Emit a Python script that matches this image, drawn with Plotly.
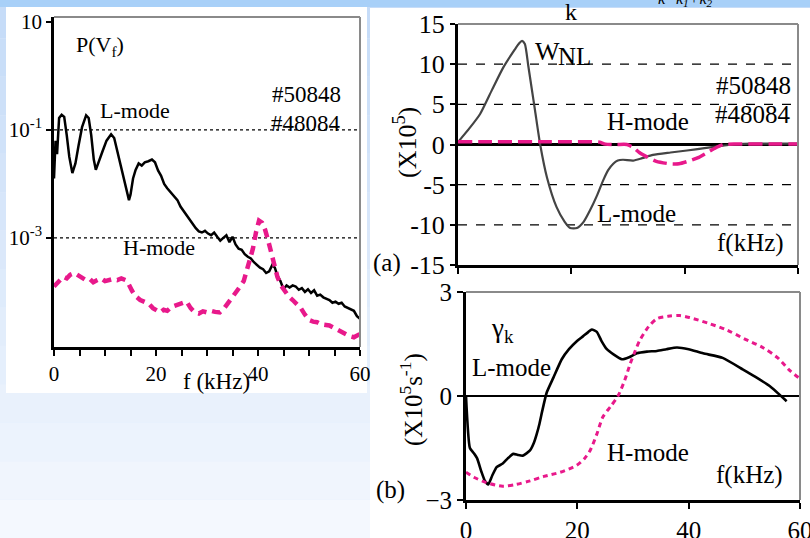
import plotly.graph_objects as go

W, H = 810, 538

# ---------------- Data ----------------
# Left panel: P(V_f) spectra, stored as log10 values
left_f_L = [0, 0.3, 0.6, 1.0, 1.5, 2.0, 2.5, 3.0, 3.6, 4.2, 4.8, 5.5, 6.3, 6.8, 7.3, 7.8, 8.2, 8.8, 9.5,
            10.3, 11.2, 11.8, 12.4, 13.0, 13.6, 14.2, 14.7, 15.0, 15.5, 16.0, 16.6, 17.2, 17.8, 18.5,
            19.2, 19.8, 20.4, 21.0, 21.6, 22.2, 22.8, 23.5, 24.2, 24.8, 25.4, 26.0, 26.6, 27.2, 27.8,
            28.4, 29.0, 29.6, 30.2, 30.8, 31.4, 32.0, 32.6, 33.2, 33.8, 34.4, 35.0, 35.6, 36.2, 36.8,
            37.4, 38.0, 38.6, 39.2, 39.8, 40.4, 41.0, 41.6, 42.2, 42.8, 43.3, 43.8, 44.4, 45.0, 45.6,
            46.2, 46.8, 47.4, 48.0, 48.6, 49.2, 49.8, 50.4, 51.0, 51.6, 52.2, 52.8, 53.4, 54.0, 54.6,
            55.2, 55.8, 56.4, 57.0, 57.6, 58.2, 58.8, 59.4, 60.0]
left_logP_L = [-1.9, -1.2, -1.45, -0.78, -0.72, -0.76, -1.1, -1.5, -1.8, -1.62, -1.3, -0.95, -0.73, -0.78,
               -1.1, -1.55, -1.74, -1.6, -1.4, -1.2, -1.08, -1.15, -1.4, -1.6, -1.85, -2.1, -2.3, -2.2,
               -1.9, -1.74, -1.62, -1.66, -1.6, -1.58, -1.55, -1.6, -1.75, -1.85, -2.0, -2.08, -2.15,
               -2.22, -2.3, -2.42, -2.5, -2.6, -2.68, -2.75, -2.82, -2.88, -2.9, -2.87, -2.92, -2.95,
               -2.9, -2.98, -3.05, -3.0, -2.95, -3.08, -2.98, -3.12, -3.2, -3.22, -3.3, -3.35, -3.38,
               -3.45, -3.5, -3.55, -3.58, -3.65, -3.62, -3.5, -3.55, -3.7, -3.8, -3.95, -3.88, -3.92,
               -3.88, -3.9, -3.96, -3.93, -4.0, -3.95, -4.02, -3.97, -4.07, -4.05, -4.1, -4.12, -4.15,
               -4.2, -4.18, -4.22, -4.2, -4.27, -4.3, -4.32, -4.35, -4.45, -4.5]
left_f_H = [0, 0.5, 1.0, 1.8, 2.5, 3.2, 4.0, 4.8, 5.5, 6.2, 7.0, 7.7, 8.5, 9.2, 10.0, 10.8, 11.6, 12.4,
            13.2, 14.0, 14.6, 15.3, 16.0, 16.9, 17.8, 18.6, 19.4, 20.2, 20.8, 21.5, 22.2, 23.0, 23.8,
            24.6, 25.4, 26.0, 26.8, 27.6, 28.4, 29.2, 30.0, 30.8, 31.6, 32.5, 33.4, 34.2, 35.0, 35.8,
            36.5, 37.2, 37.8, 38.4, 39.0, 39.6, 40.2, 40.8, 41.4, 42.0, 42.6, 43.2, 43.8, 44.5, 45.2,
            46.0, 46.8, 47.6, 48.4, 49.2, 50.0, 50.8, 51.6, 52.4, 53.2, 54.0, 54.8, 55.6, 56.4, 57.2,
            58.0, 58.8, 59.6, 60.0]
left_logP_H = [-3.9, -3.85, -3.78, -3.72, -3.75, -3.68, -3.65, -3.7, -3.72, -3.78, -3.76, -3.82, -3.78,
               -3.75, -3.8, -3.78, -3.76, -3.78, -3.75, -3.78, -3.85, -3.98, -4.08, -4.15, -4.18, -4.22,
               -4.3, -4.35, -4.38, -4.33, -4.35, -4.28, -4.25, -4.22, -4.2, -4.18, -4.3, -4.38, -4.4,
               -4.36, -4.38, -4.35, -4.37, -4.38, -4.3, -4.2, -4.12, -4.0, -3.9, -3.8, -3.6, -3.42,
               -3.2, -2.9, -2.68, -2.72, -2.85, -3.05, -3.3, -3.55, -3.72, -3.88, -3.98, -4.08, -4.15,
               -4.22, -4.3, -4.42, -4.52, -4.55, -4.56, -4.6, -4.6, -4.62, -4.66, -4.7, -4.75, -4.78,
               -4.82, -4.84, -4.8, -4.85]
left_ytick_vals = [10, 0.1, 0.001]
left_ytick_text = ["10", "10<sup>-1</sup>", "10<sup>-3</sup>"]
left_xtick_vals = [0, 5, 10, 15, 20, 25, 30, 35, 40, 45, 50, 55, 60]
left_xtick_text = ["0", "", "", "", "20", "", "", "", "40", "", "", "", "60"]

# Panel (a): W_NL^k  (x10^5)
a_f_L = [0, 2, 3.9, 6, 8, 10, 10.8, 11.3, 11.8, 12.4, 13.0, 13.6, 14.5, 15.7, 17.4, 18.8, 19.8, 21.0,
         22.2, 23.3, 24.5, 25.6, 26.5, 27.4, 28.2, 29.1, 30.9, 32.5, 34.4, 37.5, 40.4, 43.5, 46.2, 49, 52, 56, 60]
a_W_L = [0.3, 2.0, 3.8, 6.8, 9.6, 11.8, 12.6, 12.9, 12.5, 9.8, 7.0, 4.2, 0.0, -4.1, -7.8, -9.6, -10.4,
         -10.4, -9.6, -8.2, -6.4, -4.5, -3.2, -2.4, -2.0, -1.9, -2.0, -1.7, -1.3, -1.0, -0.75, -0.45,
         -0.2, 0.0, 0.1, 0.12, 0.12]
a_f_H = [0, 5, 10, 15, 20, 24, 25, 26, 28, 29.8, 31, 32, 33.5, 35, 37.4, 39, 41, 42.5, 44, 45.5, 46.8, 50, 55, 60]
a_W_H = [0.35, 0.35, 0.35, 0.35, 0.35, 0.35, 0.3, 0.05, 0.0, 0.0, -0.4, -1.0, -1.6, -2.1, -2.4, -2.4,
         -2.0, -1.6, -1.0, -0.4, 0.0, 0.05, 0.05, 0.05]
a_ytick_vals = [-15, -10, -5, 0, 5, 10, 15]
a_ytick_text = ["-15", "-10", "-5", "0", "5", "10", "15"]
a_grid_vals = [-10, -5, 5, 10]
a_xtick_vals = [0, 20, 40, 60]

# Panel (b): gamma_k  (x10^5 s^-1)
b_f_L = [0, 0.7, 1.4, 2.0, 2.8, 3.4, 4.0, 4.7, 5.5, 6.6, 7.5, 8.5, 9.3, 10.2, 11.5, 12.2, 12.7, 13.2,
         13.7, 14.5, 15.7, 17.2, 18.5, 19.9, 21.0, 22.0, 22.6, 23.5, 24.3, 25.3, 26.5, 28.0, 29.3,
         30.7, 32.5, 34.3, 36.0, 37.9, 40.0, 42.6, 46.1, 49.7, 52.0, 54.6, 57.6]
b_g_L = [0.0, -1.5, -1.65, -1.8, -2.2, -2.45, -2.55, -2.3, -2.05, -1.95, -1.8, -1.67, -1.7, -1.72,
         -1.57, -1.35, -1.1, -0.8, -0.43, 0.1, 0.53, 1.06, 1.35, 1.58, 1.72, 1.85, 1.92, 1.85, 1.6,
         1.35, 1.2, 1.06, 1.12, 1.23, 1.28, 1.3, 1.35, 1.4, 1.35, 1.23, 1.1, 0.77, 0.55, 0.28, -0.15]
b_f_H = [0, 1.5, 3.7, 6.6, 9.0, 11.5, 14.0, 16.9, 19.9, 21.3, 22.3, 23.5, 24.6, 26.0, 27.3, 28.5,
         29.5, 30.4, 31.2, 32.8, 34.3, 36.3, 38.4, 40.2, 43.5, 46.9, 50.0, 53.3, 56.0, 58.2, 60.0]
b_g_H = [-2.2, -2.35, -2.5, -2.6, -2.55, -2.45, -2.32, -2.2, -2.0, -1.8, -1.57, -1.1, -0.6, -0.3,
         0.0, 0.45, 0.93, 1.3, 1.6, 2.0, 2.23, 2.3, 2.32, 2.26, 2.1, 1.9, 1.65, 1.4, 1.1, 0.73, 0.5]
b_ytick_vals = [-3, 0, 3]
b_xtick_vals = [0, 20, 40, 60]

# ---------------- Styling ----------------
MAG = "#e8198b"
FONT = "Liberation Serif"


def px(x):
    return x / W


def py(y):
    return 1 - y / H


fig = go.Figure()

# left panel gridlines (dotted) at 1e-1 and 1e-3
for gv in [0.1, 0.001]:
    fig.add_trace(go.Scatter(x=[0, 60], y=[gv, gv], mode="lines", xaxis="x", yaxis="y",
                             line=dict(color="black", width=1.3, dash="dot"), showlegend=False,
                             hoverinfo="skip"))

fig.add_trace(go.Scatter(x=left_f_L, y=[10 ** v for v in left_logP_L], mode="lines", xaxis="x", yaxis="y",
                         line=dict(color="black", width=2.5), showlegend=False))
fig.add_trace(go.Scatter(x=left_f_H, y=[10 ** v for v in left_logP_H], mode="lines", xaxis="x", yaxis="y",
                         line=dict(color=MAG, width=4.5, dash="9px,6px"), showlegend=False))

fig.add_trace(go.Scatter(x=a_f_L, y=a_W_L, mode="lines", xaxis="x2", yaxis="y2",
                         line=dict(color="#444444", width=2.2, shape="spline", smoothing=0.6),
                         showlegend=False))
fig.add_trace(go.Scatter(x=a_f_H, y=a_W_H, mode="lines", xaxis="x2", yaxis="y2",
                         line=dict(color=MAG, width=3.5, dash="14px,6px", shape="spline", smoothing=0.6),
                         showlegend=False))

fig.add_trace(go.Scatter(x=b_f_L, y=b_g_L, mode="lines", xaxis="x3", yaxis="y3",
                         line=dict(color="black", width=2.6, shape="spline", smoothing=0.5),
                         showlegend=False))
fig.add_trace(go.Scatter(x=b_f_H, y=b_g_H, mode="lines", xaxis="x3", yaxis="y3",
                         line=dict(color=MAG, width=3, dash="5px,4px", shape="spline", smoothing=0.8),
                         showlegend=False))

shapes = []
# background gradient bands
n = 14
top_c = (0xc6, 0xdc, 0xf8)
bot_c = (0xf4, 0xf8, 0xfe)
for i in range(n):
    t = i / (n - 1)
    c = tuple(int(top_c[k] + (bot_c[k] - top_c[k]) * t) for k in range(3))
    shapes.append(dict(type="rect", xref="paper", yref="paper", x0=0, x1=1,
                       y0=1 - (i + 1) / n, y1=1 - i / n, line=dict(width=0),
                       fillcolor="rgb(%d,%d,%d)" % c, layer="below"))
# top strip
shapes.append(dict(type="rect", xref="paper", yref="paper", x0=0, x1=1, y0=py(7), y1=1,
                   line=dict(width=0), fillcolor="#a8d0f8", layer="below"))
# white panels
shapes.append(dict(type="rect", xref="paper", yref="paper", x0=px(6), x1=px(367), y0=py(393), y1=py(7),
                   line=dict(width=0), fillcolor="white", layer="below"))
shapes.append(dict(type="rect", xref="paper", yref="paper", x0=px(370), x1=1, y0=0, y1=py(8),
                   line=dict(width=0), fillcolor="white", layer="below"))

# gray top/right frame lines
for xa, ya in [("x", "y"), ("x2", "y2"), ("x3", "y3")]:
    shapes.append(dict(type="line", xref=xa + " domain", yref=ya + " domain", x0=0, x1=1, y0=1, y1=1,
                       line=dict(color="#8a8a8a", width=2)))
    shapes.append(dict(type="line", xref=xa + " domain", yref=ya + " domain", x0=1, x1=1, y0=0, y1=1,
                       line=dict(color="#8a8a8a", width=2)))
# dashed gridlines panel (a)
for gv in a_grid_vals:
    shapes.append(dict(type="line", xref="x2 domain", yref="y2", x0=0, x1=1, y0=gv, y1=gv,
                       line=dict(color="black", width=1.2, dash="dash"), layer="below"))

ann = []


def add_text(text, x, y, size, xanchor="center", yanchor="middle", angle=0, italic=False):
    ann.append(dict(text=("<i>%s</i>" % text) if italic else text, x=px(x), y=py(y),
                    xref="paper", yref="paper", showarrow=False, xanchor=xanchor, yanchor=yanchor,
                    textangle=angle, font=dict(family=FONT, size=size, color="black")))


# left panel texts
add_text("P(V<sub>f</sub>)", 74, 46, 22, xanchor="left")
add_text("L-mode", 135, 110, 22)
add_text("#50848", 306, 95, 23)
add_text("#48084", 306, 124, 23)
add_text("H-mode", 159, 248, 22)
add_text("f (kHz)", 217, 381, 23)

# panel (a) texts
add_text("W", 547, 51, 26)
add_text("k", 571, 12, 24)
add_text("NL", 574, 56, 25)
add_text("#50848", 793, 85, 25, xanchor="right")
add_text("#48084", 793, 115, 25, xanchor="right")
add_text("H-mode", 648, 122, 25)
add_text("L-mode", 636, 213, 25)
add_text("f(kHz)", 750, 243, 25)
add_text("(a)", 387, 263, 25)
add_text("(X10<sup>5</sup>)", 405, 143, 26, angle=-90)
add_text("k=k<sub>1</sub>+k<sub>2</sub>", 685, -1, 16, italic=True)

# panel (b) texts
add_text("γ<sub>k</sub>", 502, 330, 27)
add_text("L-mode", 511, 367, 25)
add_text("H-mode", 648, 452, 25)
add_text("f(kHz)", 749, 475, 25)
add_text("(b)", 390, 490, 25)
add_text("(X10<sup>5</sup>s<sup>-1</sup>)", 411, 400, 25, angle=-90)

axis_common = dict(showgrid=False, showline=True, linecolor="black", ticks="outside",
                   tickcolor="black", mirror=False, zeroline=False, automargin=False)

fig.update_layout(
    width=W, height=H, margin=dict(l=0, r=0, t=0, b=0, pad=0, autoexpand=False),
    paper_bgcolor="#e2edfc", plot_bgcolor="rgba(0,0,0,0)",
    showlegend=False, shapes=shapes, annotations=ann,
    font=dict(family=FONT, color="black"),
    xaxis=dict(domain=[px(54), px(360)], range=[0, 60], anchor="y", linewidth=2.5,
               tickvals=left_xtick_vals, ticktext=left_xtick_text, ticklen=6, tickwidth=1.5,
               tickfont=dict(size=21, family=FONT), **axis_common),
    yaxis=dict(domain=[py(347), py(17)], type="log", range=[-5.02, 1.09], anchor="x", linewidth=2.5,
               tickvals=left_ytick_vals, ticktext=left_ytick_text, ticklen=5, tickwidth=1.5,
               tickfont=dict(size=21, family=FONT), **axis_common),
    xaxis2=dict(domain=[px(458), px(798)], range=[0, 60], anchor="y2", linewidth=3,
                tickvals=a_xtick_vals, ticktext=["", "", "", ""], ticklen=6, tickwidth=2,
                **axis_common),
    yaxis2=dict(domain=[py(265), py(24)], range=[-15, 15], anchor="x2", linewidth=3,
                tickvals=a_ytick_vals, ticktext=a_ytick_text, ticklen=5, tickwidth=2,
                tickfont=dict(size=26, family=FONT),
                **{**axis_common, "zeroline": True}, zerolinecolor="black", zerolinewidth=3),
    xaxis3=dict(domain=[px(466), px(800)], range=[0, 60], anchor="y3", linewidth=3,
                tickvals=b_xtick_vals, ticklen=6, tickwidth=2, ticklabeloverflow="allow",
                tickfont=dict(size=25, family=FONT), **axis_common),
    yaxis3=dict(domain=[py(500), py(292)], range=[-3, 3], anchor="x3", linewidth=3,
                tickvals=b_ytick_vals, ticklen=6, tickwidth=2,
                tickfont=dict(size=25, family=FONT),
                **{**axis_common, "zeroline": True}, zerolinecolor="black", zerolinewidth=1.5),
)

fig.write_html("out.html")
